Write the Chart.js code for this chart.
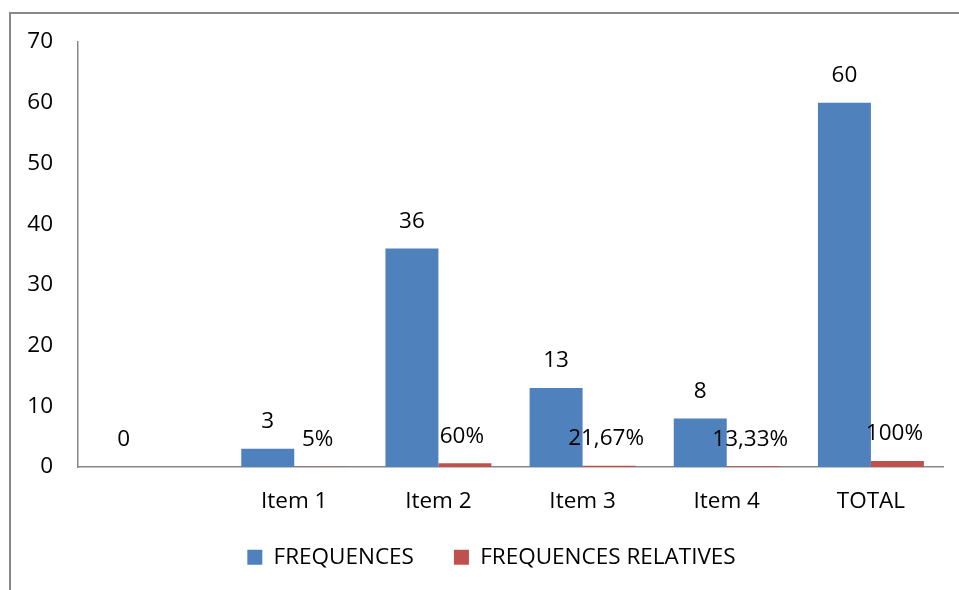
<!DOCTYPE html>
<html>
<head>
<meta charset="utf-8">
<script src="https://cdn.jsdelivr.net/npm/chart.js@4.4.1/dist/chart.umd.min.js"></script>
<style>
    html, body { margin: 0; padding: 0; background: #ffffff; }
    #wrap { position: relative; width: 959px; height: 590px; overflow: hidden; }
    #frame {
        position: absolute; left: 9px; top: 12px; width: 1000px; height: 700px;
        border-top: 2px solid #878787; border-left: 2px solid #878787;
    }
    #chart { position: absolute; left: 0; top: 0; }
</style>
</head>
<body>
<div id="wrap">
    <div id="frame"></div>
    <canvas id="chart" width="959" height="590"></canvas>
</div>
<script>
const categories = ['', 'Item 1', 'Item 2', 'Item 3', 'Item 4', 'TOTAL'];
const frequences = [0, 3, 36, 13, 8, 60];
const frequencesRelatives = [null, 0.05, 0.6, 0.2167, 0.1333, 1];

const FONT = { family: '"Open Sans", sans-serif', size: 22.5 };

function formatPercent(value) {
    const pct = Math.round(value * 10000) / 100;
    return String(pct).replace('.', ',') + '%';
}

// draws the value above each bar
const valueLabels = {
    id: 'valueLabels',
    afterDatasetsDraw(chart) {
        const ctx = chart.ctx;
        ctx.save();
        ctx.font = `${FONT.size}px ${FONT.family}`;
        ctx.fillStyle = '#000000';
        ctx.textAlign = 'center';
        ctx.textBaseline = 'middle';
        chart.data.datasets.forEach((ds, i) => {
            const meta = chart.getDatasetMeta(i);
            meta.data.forEach((bar, j) => {
                const v = ds.data[j];
                if (v === null || v === undefined) return;
                const text = i === 0 ? String(v) : formatPercent(v);
                ctx.fillText(text, bar.x - (i === 1 ? 3 : 0), bar.y - 27);
            });
        });
        ctx.restore();
    }
};

// the legend sits a bit right of the page centre and a bit higher
const legendShift = {
    id: 'legendShift',
    afterLayout(chart) {
        const lg = chart.legend;
        lg.left += 15;
        lg.right += 15;
        lg.top -= 9;
        lg.bottom -= 9;
    }
};

const ctx = document.getElementById('chart').getContext('2d');

new Chart(ctx, {
    type: 'bar',
    data: {
        labels: categories,
        datasets: [
            {
                label: 'FREQUENCES',
                data: frequences,
                backgroundColor: '#4F81BD',
                borderWidth: 0,
                categoryPercentage: 0.735,
                barPercentage: 1,
            },
            {
                label: 'FREQUENCES RELATIVES',
                data: frequencesRelatives,
                backgroundColor: '#C0504D',
                borderWidth: 0,
                categoryPercentage: 0.735,
                barPercentage: 1,
            },
        ],
    },
    options: {
        responsive: false,
        animation: false,
        layout: {
            padding: { left: 10, right: 16, top: 42, bottom: 13 }
        },
        plugins: {
            legend: {
                position: 'bottom',
                maxHeight: 62,
                labels: {
                    color: '#000000',
                    font: FONT,
                    boxWidth: 15,
                    boxHeight: 15,
                    padding: 40,
                }
            },
            tooltip: { enabled: false }
        },
        scales: {
            x: {
                grid: { display: false, drawTicks: false },
                border: { display: true, color: '#878787', width: 1.5 },
                ticks: {
                    color: '#000000',
                    font: FONT,
                    padding: 21,
                    maxRotation: 0,
                },
                afterFit(scale) { scale.height = 48; }
            },
            y: {
                min: 0,
                max: 70,
                grid: { display: false, drawTicks: false },
                border: { display: true, color: '#878787', width: 1.5 },
                ticks: {
                    stepSize: 10,
                    color: '#000000',
                    font: FONT,
                    padding: 25,
                },
                afterFit(scale) { scale.width = 68; }
            }
        }
    },
    plugins: [valueLabels, legendShift]
});
</script>
</body>
</html>
